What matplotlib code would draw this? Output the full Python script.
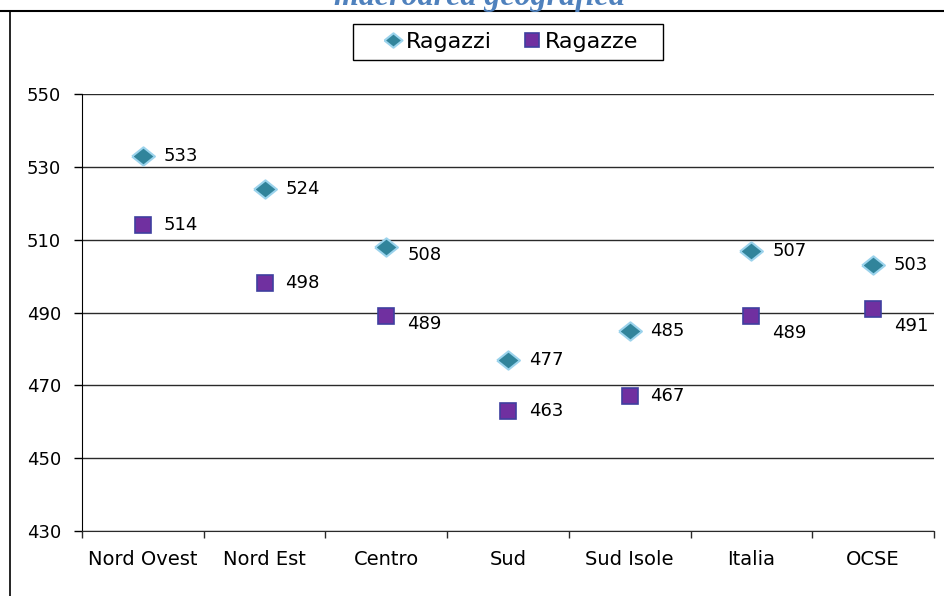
import matplotlib
matplotlib.use("Agg")
import matplotlib.pyplot as plt
from matplotlib.lines import Line2D
from matplotlib.patches import Rectangle

plt.rcParams['font.family'] = ['DejaVu Sans']

categories = ["Nord Ovest", "Nord Est", "Centro", "Sud", "Sud Isole", "Italia", "OCSE"]
ragazzi = [533, 524, 508, 477, 485, 507, 503]
ragazze = [514, 498, 489, 463, 467, 489, 491]
y_ticks = [430, 450, 470, 490, 510, 530, 550]
title = "macroarea geografica"

# label offsets (points) for the value annotations
off_m = [(15, 0), (15, 0), (15, -6), (15, 0), (15, 0), (15, 0), (15, 0)]
off_f = [(15, 0), (15, 0), (15, -6), (15, 0), (15, 0), (15, -12), (15, -12)]

W, H = 944, 596
fig = plt.figure(figsize=(W / 100, H / 100), dpi=100)
ax = fig.add_axes([82 / W, 1 - 531 / H, (934 - 82) / W, (531 - 94) / H])

x = list(range(len(categories)))
diamond = [(-1, 0), (0, 0.8), (1, 0), (0, -0.8), (-1, 0)]

ax.plot(x, ragazzi, linestyle='none', marker=diamond, markersize=16.5,
        markerfacecolor='#31849B', markeredgecolor='#9BD3EC', markeredgewidth=1.5,
        label='Ragazzi', zorder=3)
ax.plot(x, ragazze, linestyle='none', marker='s', markersize=11.5,
        markerfacecolor='#7030A0', markeredgecolor='#3F3F9F', markeredgewidth=1.2,
        label='Ragazze', zorder=3)

for xi, v, o in zip(x, ragazzi, off_m):
    ax.annotate(str(v), (xi, v), xytext=o, textcoords='offset points',
                ha='left', va='center', fontsize=13)
for xi, v, o in zip(x, ragazze, off_f):
    ax.annotate(str(v), (xi, v), xytext=o, textcoords='offset points',
                ha='left', va='center', fontsize=13)

ax.set_xlim(-0.5, len(categories) - 0.5)
ax.set_ylim(430, 550)
ax.set_yticks(y_ticks)
ax.set_yticklabels([str(t) for t in y_ticks], fontsize=13)
ax.yaxis.grid(True, color='#2a2a2a', linewidth=1.0)
ax.set_axisbelow(True)

# category labels centred, tick marks on the category boundaries
ax.set_xticks(x)
ax.set_xticklabels(categories, fontsize=14)
ax.tick_params(axis='x', which='major', length=0, pad=14)
ax.set_xticks([i - 0.5 for i in range(len(categories) + 1)], minor=True)
ax.tick_params(axis='x', which='minor', length=5, width=1, color='#2a2a2a', direction='out')
ax.tick_params(axis='y', length=6, width=1, direction='out', pad=9)

for side in ['top', 'right']:
    ax.spines[side].set_visible(False)
ax.spines['left'].set_color('black')
ax.spines['bottom'].set_color('#2a2a2a')

# legend entries, with a separate box drawn around them
leg = fig.legend(loc='center', bbox_to_anchor=(509 / W, 1 - 42 / H), ncol=2,
                 fontsize=16, frameon=False,
                 handletextpad=0.0, columnspacing=1.2, borderpad=0.0,
                 handlelength=1.2)
leg.legend_handles[0].set_markersize(13)
leg.legend_handles[1].set_markersize(10)
fig.add_artist(Rectangle((353 / W, 1 - 60 / H), 310 / W, 36 / H, fill=False,
                         edgecolor='black', linewidth=1.0, transform=fig.transFigure))

# outer frame of the chart area
fig.add_artist(Line2D([0, 1], [1 - 11 / H, 1 - 11 / H], color='black',
                      linewidth=1.5, transform=fig.transFigure))
fig.add_artist(Line2D([9.5 / W, 9.5 / W], [0, 1 - 11 / H], color='black',
                      linewidth=1.2, transform=fig.transFigure))

fig.text(0.508, 1 - 5 / H, title, ha='center', va='baseline',
         fontsize=23, fontweight='bold', style='italic', color='#4F81BD',
         family=['Liberation Serif', 'DejaVu Serif'])

fig.savefig('out.png', dpi=100)
